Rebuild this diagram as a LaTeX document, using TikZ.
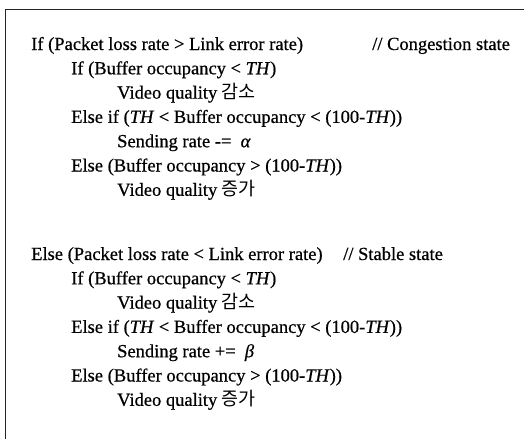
\documentclass[tikz,border=0pt]{standalone}
\usepackage{fontspec}
\setmainfont{Liberation Serif}[FakeBold=0.6]
\newfontfamily\krfont{Noto Sans CJK KR}
\usepackage{tikz}
\usepackage{xcolor}
\tikzstyle{codeLine}=[anchor=base west, inner sep=0pt, font=\fontsize{18.5}{22}\selectfont]
\tikzstyle{commentLine}=[anchor=base west, inner sep=0pt, font=\fontsize{18.5}{22}\selectfont]
\tikzstyle{frameLine}=[line width=1pt, black!85]

\begin{document}
\begin{tikzpicture}[x=1pt, y=-1pt]
    \useasboundingbox (0,0) rectangle (526,439);

    % Frame (top and left edges only)
    \coordinate (frameTL) at (5, 9);
    \coordinate (frameTR) at (524, 9);
    \coordinate (frameBL) at (5, 439);
    \draw[frameLine] (frameBL) -- (frameTL) -- (frameTR);

    % Congestion state
    \node[codeLine] (cong) at (31, 50) {If (Packet loss rate > Link error rate)};
    \node[commentLine] (congNote) at (372, 50) {// Congestion state};
    \node[codeLine] (congIf) at (71, 74.3) {If (Buffer occupancy < \textit{TH})};
    \node[codeLine] (congDown) at (117, 98.6) {Video quality {\krfont 감소}};
    \node[codeLine] (congElif) at (71, 122.9) {Else if (\textit{TH} < Buffer occupancy < (100-\textit{TH}))};
    \node[codeLine] (congRate) at (117, 147.2) {Sending rate -=\ \ \textit{α}};
    \node[codeLine] (congElse) at (71, 171.5) {Else (Buffer occupancy > (100-\textit{TH}))};
    \node[codeLine] (congUp) at (117, 195.8) {Video quality {\krfont 증가}};

    % Stable state
    \node[codeLine] (stab) at (31, 260) {Else (Packet loss rate < Link error rate)};
    \node[commentLine] (stabNote) at (343, 260) {// Stable state};
    \node[codeLine] (stabIf) at (71, 284.3) {If (Buffer occupancy < \textit{TH})};
    \node[codeLine] (stabDown) at (117, 308.6) {Video quality {\krfont 감소}};
    \node[codeLine] (stabElif) at (71, 332.9) {Else if (\textit{TH} < Buffer occupancy < (100-\textit{TH}))};
    \node[codeLine] (stabRate) at (117, 357.2) {Sending rate +=\ \ \textit{β}};
    \node[codeLine] (stabElse) at (71, 381.5) {Else (Buffer occupancy > (100-\textit{TH}))};
    \node[codeLine] (stabUp) at (117, 405.8) {Video quality {\krfont 증가}};

\end{tikzpicture}
\end{document}
